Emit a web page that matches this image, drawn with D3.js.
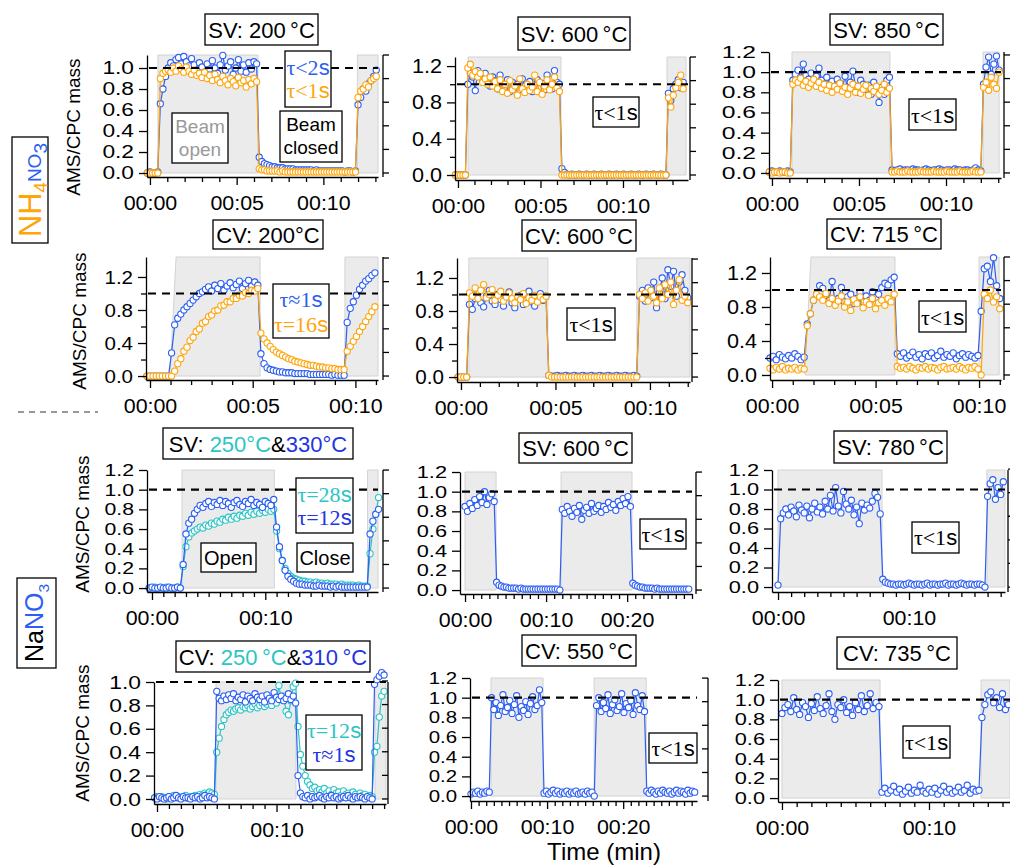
<!DOCTYPE html>
<html>
<head>
<meta charset="utf-8">
<script src="https://cdn.jsdelivr.net/npm/d3@7"></script>
<style>
body { margin: 0; background: #fff; }
svg { display: block; }
</style>
</head>
<body>
<svg id="chart" width="1010" height="868"></svg>
<script>
// colours
const C_ORANGE = '#ffa50a'
const C_BLUE = '#2d5ff2'
const C_DEEP = '#2234e4'
const C_TEAL = '#2cc5c5'
const SANS = '"Liberation Sans", Arial, sans-serif'
const SERIF = '"Liberation Serif", "Times New Roman", serif'
const TS = '\u2009'  // thin gap before the degree sign

// ---- tick values ----
const yTicksFine = [0.0, 0.2, 0.4, 0.6, 0.8, 1.0, 1.2]
const yTicksCoarse = [0.0, 0.4, 0.8, 1.2]
const yTicksCoarseMinor = [0.2, 0.6, 1.0]
const xTicks5 = [0, 5, 10]
const xTicks10 = [0, 10, 20]

// ---- NH4NO3, SV 200C (sampling 0.15 min from -0.15 min) ----
const p1_t0 = -0.15, p1_dt = 0.15
const p1_open = [[0.46, 0.46, 6.23], [11.96, 11.96, 13.15]]
const p1_blue = [0.00,0.01,0.00,0.00,0.01, 0.66,0.80,0.92,
  1.00,1.05,1.02,1.08,1.10,1.04,1.11,1.06,1.02,1.09,1.03,0.98,1.05,1.01,0.96,1.04,0.99,1.07,1.00,0.95,
  1.03,1.12,0.98,1.02,1.06,0.94,1.00,1.08,0.97,1.03,0.96,1.05,0.99,1.06,1.04,
  0.15,0.11,0.09,0.08,0.07,0.06,0.06,0.05,0.05,0.05,0.04,0.04,0.04,0.04,0.03,0.03,0.03,0.03,0.03,0.03,
  0.03,0.02,0.03,0.02,0.02,0.02,0.02,0.02,0.02,0.02,0.02,0.02,0.02,0.01,0.02,0.02,0.01,0.02,
  0.65,0.72,0.80,0.78,0.85,0.88,0.92,0.98]
const p1_orange = [0.00,0.00,0.00,0.00,0.00, 0.90,0.95,0.97,
  0.98,0.96,1.00,0.97,1.02,0.99,0.96,1.01,0.97,0.94,0.98,0.93,0.95,0.91,0.96,0.90,0.93,0.88,0.94,0.89,
  0.86,0.92,0.88,0.84,0.90,0.87,0.83,0.91,0.86,0.88,0.82,0.89,0.85,0.90,0.87,
  0.04,0.03,0.03,0.02,0.02,0.02,0.02,0.02,0.01,0.02,0.01,0.01,0.01,0.01,0.01,0.01,0.01,0.01,0.01,0.01,
  0.01,0.01,0.01,0.01,0.01,0.01,0.01,0.01,0.01,0.01,0.01,0.01,0.01,0.01,0.01,0.01,0.01,0.01,
  0.72,0.78,0.80,0.84,0.82,0.88,0.90,0.92]

// ---- NH4NO3, SV 600C ----
const p2_t0 = -0.15, p2_dt = 0.15
const p2_open = [[0.61, 0.61, 6.24], [12.67, 12.67, 13.82]]
const p2_blue = [0.00,0.00,0.00,0.00,0.00,
  1.00,1.12,1.08,0.93,1.15,1.10,1.05,1.12,1.02,0.98,1.08,1.04,0.95,1.10,1.00,0.97,1.05,0.92,1.02,0.96,
  1.00,0.94,1.06,0.98,0.95,1.03,0.92,0.99,1.05,0.96,1.01,0.94,1.10,0.98,0.95,1.15,1.02,1.00,
  0.07,0.03,
  0.01,0.00,0.01,0.00,0.00,0.01,0.00,0.00,0.01,0.00,0.00,0.01,0.00,0.00,0.01,0.00,0.00,0.01,0.00,0.00,
  0.01,0.00,0.00,0.01,0.00,0.00,0.01,0.00,0.00,0.01,0.00,0.00,0.01,0.00,0.00,0.01,0.00,0.00,0.01,0.00,0.00,
  0.90,0.82,0.95,1.00,1.05,0.96,1.02]
const p2_orange = [0.00,0.00,0.00,0.00,0.00,
  1.18,1.22,1.10,1.14,1.08,1.12,1.02,1.06,1.00,1.08,0.98,1.03,0.95,1.05,0.92,1.00,0.90,1.04,0.94,0.98,
  0.88,1.06,0.95,0.91,1.00,0.93,0.97,1.10,0.92,1.02,0.89,0.98,1.05,0.94,1.00,1.08,0.96,0.92,
  0.00,0.00,
  0.00,0.00,0.00,0.00,0.00,0.00,0.00,0.00,0.00,0.00,0.00,0.00,0.00,0.00,0.00,0.00,0.00,0.00,0.00,0.00,
  0.00,0.00,0.00,0.00,0.00,0.00,0.00,0.00,0.00,0.00,0.00,0.00,0.00,0.00,0.00,0.00,0.00,0.00,0.00,0.00,0.00,
  0.85,0.75,0.88,0.96,1.02,1.10,0.95]

// ---- NH4NO3, SV 850C ----
const p3_t0 = -0.15, p3_dt = 0.15
const p3_open = [[1.15, 1.15, 6.78], [12.13, 12.13, 13.05]]
const p3_blue = [0.01,0.02,0.01,0.01,0.02,0.01,0.01,0.02,0.01,
  0.92,0.98,1.02,0.95,1.08,0.97,0.93,0.99,0.90,0.96,1.04,0.92,0.88,0.95,0.87,0.91,0.85,0.93,0.89,0.84,
  0.96,0.82,0.90,1.01,0.86,0.80,0.92,0.88,0.83,0.87,0.78,0.90,0.82,0.70,0.85,0.78,0.92,0.95,
  0.03,0.02,0.03,0.04,0.02,0.03,0.03,0.02,0.04,0.03,0.03,0.02,0.03,0.04,0.03,0.02,0.03,0.03,0.04,0.03,
  0.02,0.03,0.03,0.02,0.04,0.03,0.03,0.02,0.03,0.03,0.02,0.03,0.05,0.03,0.02,
  0.88,1.05,1.15,0.98,1.08,1.16,1.02]
const p3_orange = [0.01,0.00,0.01,0.01,0.00,0.01,0.01,0.00,0.00,
  0.88,0.92,0.90,0.94,0.87,0.91,0.85,0.89,0.93,0.86,0.90,0.84,0.88,0.82,0.87,0.80,0.86,0.83,0.89,0.81,
  0.85,0.78,0.84,0.88,0.80,0.86,0.79,0.83,0.87,0.77,0.84,0.81,0.86,0.78,0.82,0.88,0.80,0.84,
  0.01,0.01,0.02,0.01,0.01,0.01,0.02,0.01,0.01,0.01,0.01,0.02,0.01,0.01,0.01,0.01,0.02,0.01,0.01,0.01,
  0.01,0.02,0.01,0.01,0.01,0.01,0.02,0.01,0.01,0.01,0.01,0.02,0.01,0.01,0.01,
  0.85,0.90,0.82,0.95,0.88,0.84,1.00]

// ---- NH4NO3, CV 200C ----
const p4_t0 = -0.15, p4_dt = 0.15
const p4_open = [[0.97, 1.27, 5.36], [9.49, 9.49, 11.1]]
const p4_blue = [0.00,0.00,0.00,0.00,0.00,0.00,0.00,0.00,
  0.28,0.62,0.70,0.75,0.80,0.84,0.88,0.92,0.96,1.00,1.02,
  1.05,1.08,1.03,1.10,1.06,1.12,1.04,1.09,1.13,1.07,1.11,1.15,1.06,1.12,1.16,1.09,1.14,1.10,
  0.27,0.15,0.10,0.08,0.07,0.06,0.05,0.05,0.04,
  0.04,0.04,0.03,0.03,0.03,0.03,0.03,0.02,0.02,0.02,0.02,0.02,0.02,0.02,0.01,0.02,0.01,0.01,0.01,
  0.65,0.82,0.90,0.98,1.05,1.10,1.15,1.18,1.22,1.25]
const p4_orange = [0.00,0.00,0.00,0.00,0.00,0.00,0.00,0.00,0.00,
  0.06,0.15,0.21,0.30,0.35,0.43,0.47,0.54,0.57,0.64,0.66,0.72,0.74,0.79,0.80,0.85,0.86,0.90,0.90,0.94,
  0.94,0.98,0.97,1.01,1.00,1.04,1.03,1.06,
  0.52,0.45,0.40,0.36,0.32,0.29,0.27,0.25,0.23,0.21,0.20,0.18,0.17,0.16,0.15,0.14,0.13,0.13,0.12,0.11,
  0.11,0.10,0.10,0.09,0.09,0.08,0.08,0.08,
  0.30,0.36,0.42,0.48,0.54,0.60,0.66,0.72,0.78,0.84]

// ---- NH4NO3, CV 600C ----
const p5_t0 = -0.15, p5_dt = 0.15
const p5_open = [[0.42, 0.42, 4.6], [9.31, 9.31, 12.12]]
const p5_blue = [0.00,0.00,0.00,0.00,
  0.88,0.82,0.95,1.02,0.90,0.85,0.98,1.05,0.92,0.88,1.00,0.94,0.86,0.97,1.03,0.90,0.84,0.95,0.99,0.88,
  0.93,1.04,0.91,0.86,0.96,1.01,0.93,0.98,
  0.02,0.01,0.01,0.02,0.01,0.01,0.02,0.01,0.01,0.02,0.01,0.01,0.02,0.01,0.01,0.02,0.01,0.01,0.02,0.01,
  0.01,0.02,0.01,0.01,0.02,0.01,0.01,0.02,0.01,0.01,0.02,0.01,
  0.98,1.05,0.92,1.08,0.96,1.15,0.84,1.02,1.20,0.95,1.30,1.10,1.28,0.98,1.15,1.24,1.05,0.96]
const p5_orange = [0.00,0.00,0.00,0.00,
  1.02,0.98,1.08,0.95,1.05,1.12,0.96,1.00,1.06,0.93,0.99,1.04,0.92,0.97,1.02,0.95,0.90,0.98,0.94,1.01,
  0.89,0.96,0.93,0.99,0.91,0.97,0.94,0.98,
  0.02,0.00,0.00,0.00,0.00,0.00,0.00,0.00,0.00,0.00,0.00,0.00,0.00,0.00,0.00,0.00,0.00,0.00,0.00,0.00,
  0.00,0.00,0.00,0.00,0.00,0.00,0.00,0.00,0.00,0.00,0.00,0.00,
  1.00,0.95,1.02,0.92,1.05,0.98,0.90,1.08,0.95,1.12,1.00,1.15,0.88,1.05,1.18,0.93,0.98,0.90]

// ---- NH4NO3, CV 715C ----
const p6_t0 = -0.1, p6_dt = 0.15
const p6_open = [[1.59, 1.88, 5.94], [10.0, 10.0, 10.97]]
const p6_blue = [0.20,0.22,0.18,0.24,0.21,0.19,0.23,0.20,0.25,0.22,0.18,0.21,
  0.60,0.72,0.88,0.95,1.05,1.02,0.92,0.88,1.10,0.85,0.90,1.03,0.86,0.92,0.95,0.84,0.90,0.97,0.86,0.93,
  0.88,0.98,0.91,0.95,1.03,1.08,1.06,1.12,1.15,
  0.25,0.22,0.26,0.20,0.23,0.27,0.21,0.24,0.19,0.25,0.22,0.26,0.20,0.23,0.28,0.21,0.24,0.22,0.26,0.19,
  0.23,0.25,0.21,0.24,0.22,0.20,0.23,
  0.75,1.25,1.28,1.10,1.38,1.05,0.90]
const p6_orange = [0.08,0.06,0.09,0.07,0.10,0.06,0.08,0.07,0.09,0.06,0.08,0.07,
  0.58,0.72,0.88,0.95,0.92,0.88,0.96,0.84,0.90,0.82,0.87,0.93,0.80,0.86,0.76,0.89,0.84,0.92,0.79,0.86,
  0.83,0.90,0.78,0.85,0.88,0.82,0.90,0.86,0.95,
  0.10,0.08,0.09,0.07,0.10,0.08,0.06,0.09,0.08,0.10,0.07,0.09,0.08,0.06,0.09,0.10,0.07,0.08,0.09,0.07,
  0.10,0.08,0.06,0.09,0.08,0.10,0.07,
  0.00,0.95,0.90,1.00,0.86,0.92,0.78]

// ---- NaNO3, SV 250C (teal) & 330C (blue) ----
const p7_t0 = -0.25, p7_dt = 0.25
const p7_open = [[2.65, 2.65, 10.8], [19.03, 19.03, 19.95]]
const p7_teal = [0.00,0.00,0.01,0.00,0.00,0.00,0.01,0.00,0.00,0.00,0.01,0.00,
  0.22,0.42,0.52,0.56,0.58,0.60,0.62,0.61,0.64,0.63,0.66,0.65,0.68,0.67,0.70,0.69,0.72,0.70,0.73,0.71,
  0.74,0.73,0.76,0.74,0.77,0.75,0.78,0.76,0.79,0.77,0.80,0.78,0.80,
  0.58,0.40,0.28,0.20,0.15,0.12,0.10,0.09,0.08,
  0.07,0.07,0.06,0.06,0.05,0.06,0.05,0.05,0.04,0.05,0.04,0.04,0.04,0.03,0.04,0.03,0.03,0.03,0.03,0.02,
  0.03,0.02,0.02,0.02,
  0.35,0.60,0.75,0.92]
const p7_blue = [0.00,0.01,0.00,0.00,0.01,0.00,0.00,0.01,0.00,0.00,0.01,0.00,
  0.24,0.55,0.66,0.70,0.76,0.80,0.84,0.82,
  0.86,0.88,0.83,0.87,0.85,0.89,0.84,0.88,0.86,0.82,0.87,0.89,0.85,0.83,0.88,0.86,0.90,0.84,0.87,0.85,
  0.82,0.88,0.86,0.84,0.90,
  0.62,0.42,0.28,0.18,0.12,0.09,0.07,0.05,0.04,
  0.04,0.03,0.03,0.03,0.02,0.02,0.03,0.02,0.02,0.02,0.01,0.02,0.01,0.02,0.01,0.01,0.01,0.01,0.01,0.01,
  0.01,0.01,0.01,0.01,
  0.55,0.68,0.75,0.80]

// ---- NaNO3, SV 600C ----
const p8_t0 = 0, p8_dt = 0.3
const p8_open = [[0, 0, 3.83], [11.85, 11.85, 20.6]]
const p8_blue = [0.85,0.80,0.88,0.83,0.92,0.86,0.95,0.89,1.00,0.87,0.94,0.98,0.90,
  0.08,0.05,0.04,0.03,0.03,0.02,0.02,0.02,0.02,0.01,0.02,0.01,0.01,0.01,0.01,0.01,0.01,0.01,0.01,0.01,
  0.01,0.01,0.01,0.01,0.01,0.01,0.00,
  0.82,0.78,0.85,0.80,0.75,0.83,0.79,0.86,0.72,0.81,0.84,0.78,0.88,0.80,0.83,0.86,0.79,0.85,0.82,0.89,
  0.84,0.87,0.81,0.90,0.86,0.93,0.88,0.95,0.85,
  0.07,0.05,0.04,0.03,0.03,0.02,0.02,0.02,0.02,0.01,0.02,0.01,0.01,0.01,0.01,0.01,0.01,0.01,0.01,0.01,
  0.01,0.01,0.01,0.01]

// ---- NaNO3, SV 780C ----
const p9_t0 = 0, p9_dt = 0.2
const p9_open = [[0, 0, 7.94], [15.95, 15.95, 17.33]]
const p9_blue = [0.02,
  0.70,0.76,0.80,0.74,0.82,0.78,0.72,0.84,0.79,0.76,0.83,0.71,0.80,0.86,0.77,0.82,0.75,0.88,0.80,0.94,
  0.78,1.02,0.83,0.76,0.98,0.85,0.80,0.89,0.74,0.82,0.65,0.86,0.79,0.84,0.81,0.88,0.96,0.92,0.75,
  0.08,0.05,0.04,0.03,0.03,0.02,0.03,0.03,0.02,0.03,0.04,0.03,0.02,0.03,0.03,0.02,0.03,0.04,0.02,0.03,
  0.03,0.02,0.03,0.03,0.04,0.02,0.03,0.03,0.02,0.03,0.04,0.03,0.02,0.03,0.03,0.02,0.03,0.03,0.02,0.00,
  0.93,1.06,1.10,0.90,1.02,0.95,1.08]

// ---- NaNO3, CV 250C (teal) & 310C (blue) ----
const p10_t0 = -0.2, p10_dt = 0.2
const p10_open = [[4.94, 4.94, 11.63], [18.24, 18.24, 19.16]]
const p10_teal = [0.01,0.02,0.01,0.02,0.01,0.00,0.02,0.01,0.03,0.01,0.02,0.01,0.02,0.03,0.01,0.02,0.02,
  0.03,0.02,0.04,0.03,0.05,0.04,0.06,0.05,0.04,
  0.40,0.52,0.62,0.68,0.72,0.74,0.76,0.75,0.77,0.78,0.76,0.79,0.78,0.80,0.77,0.79,0.81,0.78,0.80,0.82,
  0.79,0.81,0.83,0.80,0.84,0.82,0.97,0.85,0.88,0.75,0.72,0.84,0.96,0.99,
  0.62,0.38,0.28,0.20,0.15,0.12,0.09,0.10,0.07,0.08,0.06,0.09,0.05,0.07,0.04,0.08,0.05,0.06,0.03,0.07,
  0.04,0.05,0.03,0.06,0.04,0.02,0.05,0.03,0.04,0.02,0.03,0.02,
  0.40,0.45,0.70,0.88,0.92]
const p10_blue = [0.01,0.00,0.02,0.01,0.00,0.01,0.02,0.00,0.01,0.03,0.01,0.00,0.02,0.01,0.01,0.00,0.02,
  0.01,0.02,0.00,0.01,0.03,0.01,0.02,0.01,0.00,
  0.92,0.86,0.84,0.88,0.85,0.89,0.86,0.90,0.84,0.87,0.85,0.89,0.83,0.88,0.86,0.84,0.90,0.87,0.85,0.88,
  0.83,0.89,0.86,0.84,0.91,0.87,0.85,0.88,0.84,0.86,0.90,0.85,0.88,0.82,
  0.20,0.05,
  0.02,0.01,0.03,0.00,0.02,0.01,0.02,0.03,0.01,0.00,0.02,0.01,0.03,0.01,0.02,0.00,0.01,0.02,0.01,0.03,
  0.01,0.00,0.02,0.01,0.02,0.01,0.00,0.02,0.01,0.00,
  0.98,1.02,1.05,1.08,1.06]

// ---- NaNO3, CV 550C ----
const p11_t0 = 0, p11_dt = 0.3
const p11_open = [[2.63, 2.63, 9.47], [16.18, 16.18, 23.03]]
const p11_blue = [0.02,0.04,0.03,0.05,0.02,0.04,0.03,0.05,0.04,
  1.00,0.88,0.95,0.82,0.92,1.03,0.86,0.90,0.97,0.84,0.93,1.02,0.80,0.91,0.87,0.96,0.83,0.94,1.01,0.88,
  0.92,1.08,0.95,
  0.03,0.05,0.02,0.04,0.06,0.03,0.05,0.02,0.04,0.03,0.05,0.02,0.04,0.03,0.05,0.02,0.03,0.04,0.02,0.05,
  0.03,0.04,0.00,
  0.92,1.00,0.86,0.95,0.89,1.03,0.84,0.93,0.98,0.87,0.91,1.04,0.85,0.94,0.90,0.97,0.83,1.05,0.92,0.88,
  1.02,0.86,
  0.05,0.03,0.06,0.04,0.02,0.05,0.03,0.06,0.04,0.03,0.05,0.02,0.04,0.06,0.03,0.05,0.04,0.02,0.06,0.03,
  0.05,0.04]

// ---- NaNO3, CV 735C ----
const p12_t0 = 0, p12_dt = 0.2
const p12_open = [[0, 0, 6.67], [13.54, 13.54, 15.51]]
const p12_blue = [0.86,0.92,0.95,0.88,1.02,0.90,0.85,0.97,0.93,0.82,0.96,0.89,1.03,0.91,0.86,0.94,1.06,
  0.88,0.80,0.95,0.92,1.00,0.87,0.93,0.84,0.97,0.90,1.04,0.88,0.94,1.06,0.91,0.97,0.93,
  0.06,0.10,0.05,0.08,0.12,0.06,0.09,0.04,0.07,0.11,0.05,0.08,0.06,0.13,0.07,0.05,0.09,0.06,0.10,0.04,
  0.08,0.12,0.06,0.09,0.05,0.07,0.11,0.06,0.08,0.13,0.05,0.09,0.07,0.08,
  0.82,0.95,1.05,1.08,0.97,1.02,0.92,1.06,0.90,0.95]

// ---- panel layout ----
const tau = (s, c, y) => ({ serif: s, sans: 's', color: c, y: y })
const word = (s, c, y) => ({ sans: s, color: c, y: y })

const panels = [
  { id: 'p1', L: 147, R: 378, T: 55, B: 177, tmin: -0.17, tmax: 13.15, ymin: -0.038, ymax: 1.124,
    yTicks: yTicksFine, yMinor: [], xMajor: xTicks5, right: 383, rdir: 1, yfs: 17.5, ys: 1.3,
    open: p1_open, series: [
      { t0: p1_t0, dt: p1_dt, values: p1_blue, color: C_BLUE },
      { t0: p1_t0, dt: p1_dt, values: p1_orange, color: C_ORANGE }],
    title: { box: [205, 14, 318, 45], parts: [['SV: 200' + TS + '°C', '#000']] },
    notes: [
      { box: [285, 51, 331, 107], lines: [tau('τ<2', C_BLUE, 75), tau('τ<1', C_ORANGE, 98)] },
      { box: [172, 113, 228, 163], fs: 19, lines: [word('Beam', '#999', 133), word('open', '#999', 156)] },
      { box: [280, 111, 342, 162], fs: 19, lines: [word('Beam', '#000', 131), word('closed', '#000', 154)] }] },
  { id: 'p2', L: 455, R: 688, T: 57, B: 180, tmin: -0.18, tmax: 13.94, ymin: -0.055, ymax: 1.30,
    yTicks: yTicksCoarse, yMinor: yTicksCoarseMinor, xMajor: xTicks5, right: 690, rdir: 1, yfs: 20, ys: 1.08,
    open: p2_open, series: [
      { t0: p2_t0, dt: p2_dt, values: p2_blue, color: C_BLUE },
      { t0: p2_t0, dt: p2_dt, values: p2_orange, color: C_ORANGE }],
    title: { box: [518, 17, 630, 50], parts: [['SV: 600' + TS + '°C', '#000']] },
    notes: [{ box: [593, 97, 639, 127], lines: [tau('τ<1', '#000', 120)] }] },
  { id: 'p3', L: 769, R: 1001, T: 52, B: 178, tmin: -0.17, tmax: 13.16, ymin: -0.05, ymax: 1.2,
    yTicks: yTicksFine, yMinor: [], xMajor: xTicks5, right: 1004, rdir: 1, yfs: 17, ys: 1.45,
    open: p3_open, series: [
      { t0: p3_t0, dt: p3_dt, values: p3_blue, color: C_BLUE },
      { t0: p3_t0, dt: p3_dt, values: p3_orange, color: C_ORANGE }],
    title: { box: [830, 14, 943, 45], parts: [['SV: 850' + TS + '°C', '#000']] },
    notes: [{ box: [909, 99, 956, 130], lines: [tau('τ<1', '#000', 123)] }] },
  { id: 'p4', L: 146, R: 378, T: 257, B: 380, tmin: -0.195, tmax: 11.1, ymin: -0.048, ymax: 1.442,
    yTicks: yTicksCoarse, yMinor: yTicksCoarseMinor, xMajor: xTicks5, right: 383, rdir: 1, yfs: 19, ys: 1.08,
    open: p4_open, series: [
      { t0: p4_t0, dt: p4_dt, values: p4_blue, color: C_BLUE },
      { t0: p4_t0, dt: p4_dt, values: p4_orange, color: C_ORANGE }],
    title: { box: [213, 220, 323, 249], parts: [['CV: 200°C', '#000']] },
    notes: [{ box: [273, 284, 329, 338], lines: [tau('τ≈1', C_BLUE, 307), tau('τ=16', C_ORANGE, 332)] }] },
  { id: 'p5', L: 457, R: 690, T: 258, B: 382, tmin: -0.21, tmax: 12.12, ymin: -0.06, ymax: 1.442,
    yTicks: yTicksCoarse, yMinor: yTicksCoarseMinor, xMajor: xTicks5, right: 692, rdir: 1, yfs: 20, ys: 1.03,
    open: p5_open, series: [
      { t0: p5_t0, dt: p5_dt, values: p5_blue, color: C_BLUE },
      { t0: p5_t0, dt: p5_dt, values: p5_orange, color: C_ORANGE }],
    title: { box: [522, 220, 636, 251], parts: [['CV: 600' + TS + '°C', '#000']] },
    notes: [{ box: [567, 308, 615, 340], lines: [tau('τ<1', '#000', 332)] }] },
  { id: 'p6', L: 770, R: 1001, T: 257, B: 380, tmin: -0.1, tmax: 11.06, ymin: -0.059, ymax: 1.388,
    yTicks: yTicksCoarse, yMinor: yTicksCoarseMinor, xMajor: xTicks5, right: 1004, rdir: 1, yfs: 20, ys: 1.08,
    open: p6_open, series: [
      { t0: p6_t0, dt: p6_dt, values: p6_blue, color: C_BLUE },
      { t0: p6_t0, dt: p6_dt, values: p6_orange, color: C_ORANGE }],
    title: { box: [827, 219, 941, 249], parts: [['CV: 715' + TS + '°C', '#000']] },
    notes: [{ box: [919, 301, 966, 332], lines: [tau('τ<1', '#000', 325)] }] },
  { id: 'p7', L: 147, R: 378, T: 470, B: 592, tmin: -0.44, tmax: 19.95, ymin: -0.04, ymax: 1.2,
    yTicks: yTicksFine, yMinor: [], xMajor: xTicks10, right: 383, rdir: 1, yfs: 17, ys: 1.25,
    open: p7_open, series: [
      { t0: p7_t0, dt: p7_dt, values: p7_teal, color: C_TEAL },
      { t0: p7_t0, dt: p7_dt, values: p7_blue, color: C_BLUE }],
    title: { box: [163, 428, 353, 459], parts: [['SV: ', '#000'], ['250°C', C_TEAL], ['&', '#000'], ['330°C', C_DEEP]] },
    notes: [
      { box: [296, 478, 353, 533], lines: [tau('τ=28', C_TEAL, 502), tau('τ=12', C_DEEP, 525)] },
      { box: [201, 543, 256, 572], fs: 20, lines: [word('Open', '#000', 565)] },
      { box: [297, 543, 353, 572], fs: 20, lines: [word('Close', '#000', 565)] }] },
  { id: 'p8', L: 460, R: 692, T: 472, B: 594, tmin: -0.62, tmax: 28.0, ymin: -0.04, ymax: 1.2,
    yTicks: yTicksFine, yMinor: [], xMajor: xTicks10, right: 696, rdir: 1, yfs: 17, ys: 1.28,
    open: p8_open, series: [{ t0: p8_t0, dt: p8_dt, values: p8_blue, color: C_BLUE }],
    title: { box: [519, 433, 632, 463], parts: [['SV: 600' + TS + '°C', '#000']] },
    notes: [{ box: [640, 519, 686, 549], lines: [tau('τ<1', '#000', 542)] }] },
  { id: 'p9', L: 772, R: 1005, T: 470, B: 592, tmin: -0.46, tmax: 17.33, ymin: -0.051, ymax: 1.2,
    yTicks: yTicksFine, yMinor: [], xMajor: xTicks10, right: 1008, rdir: 1, yfs: 17, ys: 1.28,
    open: p9_open, series: [{ t0: p9_t0, dt: p9_dt, values: p9_blue, color: C_BLUE }],
    title: { box: [834, 431, 947, 463], parts: [['SV: 780' + TS + '°C', '#000']] },
    notes: [{ box: [912, 522, 959, 553], lines: [tau('τ<1', '#000', 545)] }] },
  { id: 'p10', L: 154, R: 386, T: 682, B: 804, tmin: -0.25, tmax: 19.16, ymin: -0.043, ymax: 1.0,
    yTicks: yTicksFine, yMinor: [], xMajor: xTicks10, right: 388, rdir: -1, yfs: 19, ys: 1.2,
    open: p10_open, series: [
      { t0: p10_t0, dt: p10_dt, values: p10_teal, color: C_TEAL },
      { t0: p10_t0, dt: p10_dt, values: p10_blue, color: C_BLUE }],
    title: { box: [176, 641, 370, 672], parts: [['CV: ', '#000'], ['250' + TS + '°C', C_TEAL], ['&', '#000'], ['310' + TS + '°C', C_DEEP]] },
    notes: [{ box: [306, 715, 362, 770], lines: [tau('τ=12', C_TEAL, 738), tau('τ≈1', C_DEEP, 762)] }] },
  { id: 'p11', L: 470, R: 697, T: 678, B: 801, tmin: -0.13, tmax: 29.7, ymin: -0.05, ymax: 1.2,
    yTicks: yTicksFine, yMinor: [], xMajor: xTicks10, right: 708, rdir: -1, yfs: 17, ys: 1.2,
    open: p11_open, series: [{ t0: p11_t0, dt: p11_dt, values: p11_blue, color: C_BLUE }],
    title: { box: [522, 635, 636, 666], parts: [['CV: 550' + TS + '°C', '#000']] },
    notes: [{ box: [649, 733, 697, 763], lines: [tau('τ<1', '#000', 756)] }] },
  { id: 'p12', L: 778, R: 1010, T: 680, B: 802, tmin: -0.27, tmax: 15.51, ymin: -0.04, ymax: 1.2,
    yTicks: yTicksFine, yMinor: [], xMajor: xTicks10, right: null, rdir: 1, yfs: 17, ys: 1.28,
    open: p12_open, series: [{ t0: p12_t0, dt: p12_dt, values: p12_blue, color: C_BLUE }],
    title: { box: [837, 637, 957, 669], parts: [['CV: 735' + TS + '°C', '#000']] },
    notes: [{ box: [903, 726, 950, 758], lines: [tau('τ<1', '#000', 750)] }] }
]

const svg = d3.select('#chart')

function fmt_time(m) {
    return '00:' + String(m).padStart(2, '0')
}

function stretch_text(sel, factor) {
    sel.each(function () {
        let w = this.getComputedTextLength()
        d3.select(this).attr('textLength', w * factor).attr('lengthAdjust', 'spacingAndGlyphs')
    })
}

function style_axis(ax, fs) {
    ax.attr('font-family', SANS).attr('font-size', fs)
    ax.selectAll('.domain').attr('stroke', '#000').attr('stroke-width', 1.3)
    ax.selectAll('.tick line').attr('stroke', '#000').attr('stroke-width', 1.3)
    ax.selectAll('.tick text').attr('fill', '#000')
}

function draw_box(g, box) {
    g.append('rect')
        .attr('x', box[0]).attr('y', box[1])
        .attr('width', box[2] - box[0]).attr('height', box[3] - box[1])
        .attr('fill', '#fff').attr('stroke', '#000').attr('stroke-width', 1.3)
}

function draw_panel(p) {
    let g = svg.append('g').attr('id', p.id)
    let x = d3.scaleLinear().domain([p.tmin, p.tmax]).range([p.L, p.R])
    let y = d3.scaleLinear().domain([p.ymin, p.ymax]).range([p.B, p.T])
    let line = d3.line().x(d => x(d[0])).y(d => y(d[1]))

    // beam open periods
    p.open.forEach(o => {
        g.append('path')
            .attr('d', line([[o[0], 0], [o[1], p.ymax], [o[2], p.ymax], [o[2], 0]]) + 'Z')
            .attr('fill', '#ebebeb').attr('stroke', '#d3d3d3').attr('stroke-width', 1)
    })

    // traces
    p.series.forEach(s => {
        let pts = s.values.map((v, i) => [s.t0 + i * s.dt, v])
        g.append('path').attr('d', line(pts))
            .attr('fill', 'none').attr('stroke', s.color).attr('stroke-width', 1.2)
        g.append('g').selectAll('circle').data(pts).join('circle')
            .attr('cx', d => x(d[0])).attr('cy', d => y(d[1])).attr('r', 3.1)
            .attr('fill', '#fff').attr('stroke', s.color).attr('stroke-width', 1.1)
    })

    // AMS/CPC = 1 reference
    g.append('line')
        .attr('x1', p.L + 2).attr('x2', p.R).attr('y1', y(1)).attr('y2', y(1))
        .attr('stroke', '#000').attr('stroke-width', 2.2).attr('stroke-dasharray', '8,6')

    // left axis
    let yt = p.yTicks.filter(v => v <= p.ymax + 1e-6)
    let yAx = g.append('g').attr('transform', `translate(${p.L},0)`)
        .call(d3.axisLeft(y).tickValues(yt).tickSize(8).tickSizeOuter(0).tickPadding(5)
            .tickFormat(d3.format('.1f')))
    style_axis(yAx, p.yfs)
    stretch_text(yAx.selectAll('.tick text'), p.ys)
    if (p.yMinor.length) {
        let yMin = g.append('g').attr('transform', `translate(${p.L},0)`)
            .call(d3.axisLeft(y).tickValues(p.yMinor).tickSize(5).tickFormat(''))
        yMin.select('.domain').remove()
        style_axis(yMin, 10)
    }

    // bottom axis
    let xt = p.xMajor.filter(v => v <= p.tmax)
    let xAx = g.append('g').attr('transform', `translate(0,${p.B})`)
        .call(d3.axisBottom(x).tickValues(xt).tickSize(8).tickSizeOuter(0).tickPadding(11)
            .tickFormat(fmt_time))
    style_axis(xAx, 20)
    stretch_text(xAx.selectAll('.tick text'), 1.07)
    let minor = d3.range(0, Math.floor(p.tmax) + 1).filter(v => !xt.includes(v))
    let xMin = g.append('g').attr('transform', `translate(0,${p.B})`)
        .call(d3.axisBottom(x).tickValues(minor).tickSize(5).tickFormat(''))
    xMin.select('.domain').remove()
    style_axis(xMin, 10)

    // right axis (unlabelled)
    if (p.right) {
        let yR = d3.scaleLinear().domain([0, 1]).range([y(0), y(0) - 118])
        g.append('line').attr('x1', p.right).attr('x2', p.right).attr('y1', p.B).attr('y2', p.T)
            .attr('stroke', '#000').attr('stroke-width', 1.3)
        g.append('g').selectAll('line').data([0, 0.2, 0.4, 0.6, 0.8, 1.0]).join('line')
            .attr('x1', p.right).attr('x2', p.right + 6 * p.rdir)
            .attr('y1', d => yR(d)).attr('y2', d => yR(d))
            .attr('stroke', '#000').attr('stroke-width', 1.3)
    }

    // title
    let tb = p.title.box
    draw_box(g, tb)
    let tt = g.append('text')
        .attr('x', (tb[0] + tb[2]) / 2).attr('y', (tb[1] + tb[3]) / 2 + 8)
        .attr('text-anchor', 'middle').attr('font-family', SANS).attr('font-size', 22)
    p.title.parts.forEach(pt => tt.append('tspan').attr('fill', pt[1]).text(pt[0]))

    // notes
    p.notes.forEach(n => {
        draw_box(g, n.box)
        let cx = (n.box[0] + n.box[2]) / 2
        n.lines.forEach(l => {
            let t = g.append('text').attr('x', cx).attr('y', l.y)
                .attr('text-anchor', 'middle').attr('fill', l.color)
            if (l.serif) {
                t.append('tspan').attr('font-family', SERIF).attr('font-size', 22).text(l.serif)
                t.append('tspan').attr('font-family', SANS).attr('font-size', 22).text(l.sans)
            } else {
                t.attr('font-family', SANS).attr('font-size', n.fs).text(l.sans)
            }
        })
    })
}

panels.forEach(draw_panel)

// y titles
const yTitlePos = [[80, 127], [86, 321], [89, 524], [89, 733]]
yTitlePos.forEach(pos => {
    svg.append('text')
        .attr('transform', `translate(${pos[0]},${pos[1]}) rotate(-90)`)
        .attr('text-anchor', 'middle').attr('font-family', SANS).attr('font-size', 19)
        .text('AMS/CPC mass')
})

// x title
svg.append('text').attr('x', 604).attr('y', 860)
    .attr('text-anchor', 'middle').attr('font-family', SANS).attr('font-size', 24)
    .text('Time (min)')

// compound labels
function side_label(box, cx, cy, fs, len, parts) {
    draw_box(svg, box)
    let t = svg.append('text')
        .attr('transform', `translate(${cx},${cy}) rotate(-90)`)
        .attr('text-anchor', 'middle').attr('font-family', SANS).attr('font-size', fs)
    parts.forEach(pt => {
        let s = t.append('tspan').attr('fill', pt[1]).text(pt[0])
        if (pt[2]) s.attr('font-size', fs * 0.62).attr('dy', pt[2])
    })
    if (len) t.attr('textLength', len).attr('lengthAdjust', 'spacingAndGlyphs')
}
side_label([12, 137, 48, 243], 41, 190, 31, 94,
    [['NH', C_ORANGE], ['4', C_ORANGE, 6], ['NO', C_BLUE, -6], ['3', C_BLUE, 6]])
side_label([17, 578, 56, 668], 43, 623, 25, null,
    [['Na', '#000'], ['NO', C_BLUE], ['3', C_BLUE, 6]])

// separator between compounds
svg.append('line').attr('x1', 18).attr('x2', 98).attr('y1', 412).attr('y2', 412)
    .attr('stroke', '#333').attr('stroke-width', 1.2).attr('stroke-dasharray', '6,5')
</script>
</body>
</html>
